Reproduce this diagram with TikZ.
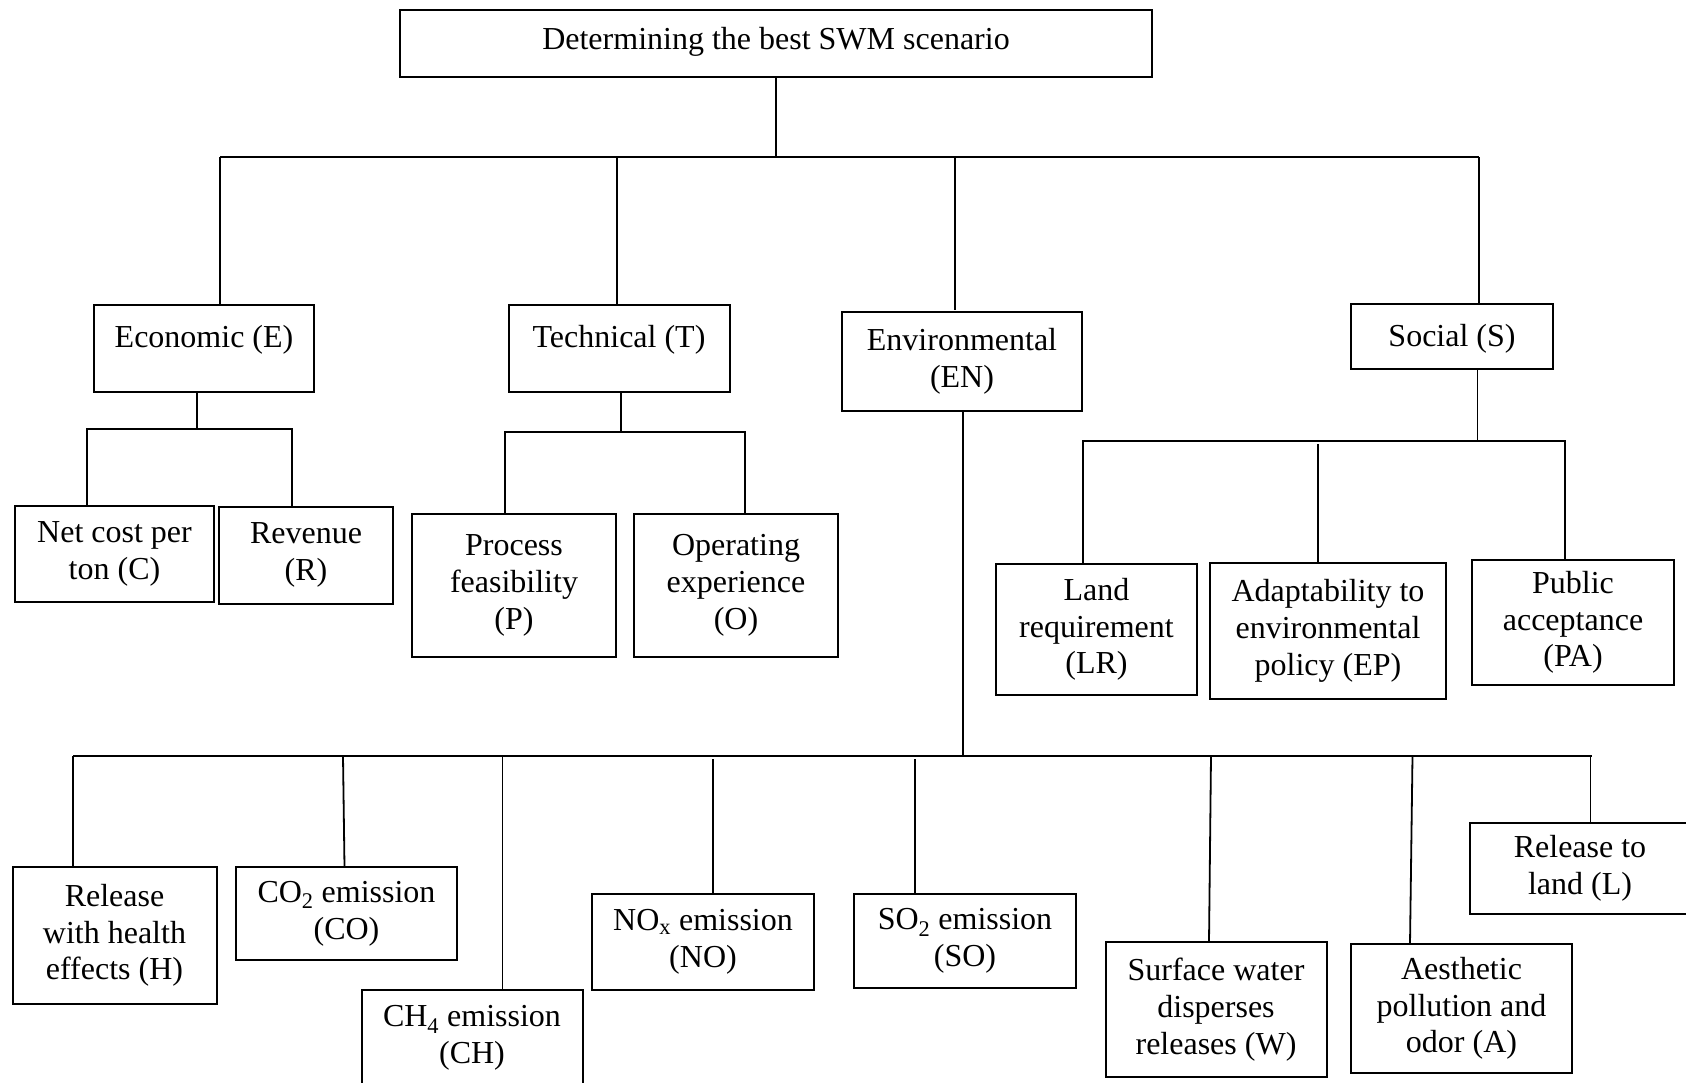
\documentclass[tikz,border=0pt]{standalone}
\usepackage{fontspec}
\setmainfont{Liberation Serif}
\tikzset{
  box/.style={draw,line width=2pt,rectangle,inner sep=0pt,outer sep=0pt,align=center,
    font=\fontsize{32}{36.7}\selectfont},
  link/.style={line width=1.8pt}
}
\begin{document}
\begin{tikzpicture}[x=1pt,y=-1pt]
\clip (0,0) rectangle (1686,1082);
\fill[white] (0,0) rectangle (1686,1082);

% goal
\node[box,minimum width=752,minimum height=67,text height=23pt,text depth=11pt] (goal) at (776,43.5) {Determining the best SWM scenario};

% criteria
\node[box,minimum width=220,minimum height=87,text height=23pt,text depth=25pt] (E) at (204,348.5) {Economic (E)};
\node[box,minimum width=221,minimum height=87,text height=23pt,text depth=25pt] (T) at (619,348.5) {Technical (T)};
\node[box,minimum width=240,minimum height=99] (EN) at (962,361) {Environmental\\(EN)};
\node[box,minimum width=202,minimum height=65,text height=23pt,text depth=4pt] (S) at (1452,336.5) {Social (S)};

% sub-criteria
\node[box,minimum width=199,minimum height=96] (C) at (114.5,554) {Net cost per\\ton (C)};
\node[box,minimum width=174,minimum height=97] (R) at (306,555) {Revenue\\(R)};
\node[box,minimum width=204,minimum height=143] (P) at (514,585.5) {Process\\feasibility\\(P)};
\node[box,minimum width=204,minimum height=143] (O) at (736,585.5) {Operating\\experience\\(O)};
\node[box,minimum width=201,minimum height=131] (LR) at (1096.5,629.5) {Land\\requirement\\(LR)};
\node[box,minimum width=236,minimum height=136] (EP) at (1328,631) {Adaptability to\\environmental\\policy (EP)};
\node[box,minimum width=202,minimum height=125] (PA) at (1573,622.5) {Public\\acceptance\\(PA)};

\node[box,minimum width=204,minimum height=137] (H) at (114.5,935.5) {Release\\with health\\effects (H)};
\node[box,minimum width=221,minimum height=93] (CO) at (346.5,913.5) {CO\textsubscript{2} emission\\(CO)};
\node[box,minimum width=221,minimum height=96] (CH) at (472,1038) {CH\textsubscript{4} emission\\(CH)};
\node[box,minimum width=222,minimum height=96] (NO) at (703,942) {NO\textsubscript{x} emission\\(NO)};
\node[box,minimum width=222,minimum height=94] (SO) at (965,941) {SO\textsubscript{2} emission\\(SO)};
\node[box,minimum width=221,minimum height=135] (W) at (1216,1009.5) {Surface water\\disperses\\releases (W)};
\node[box,minimum width=221,minimum height=129] (A) at (1461.5,1008.5) {Aesthetic\\pollution and\\odor (A)};
\node[box,minimum width=221,minimum height=91] (L) at (1580,868.5) {Release to\\land (L)};

% bus points
\coordinate (gB) at (776,157);
\coordinate (gL) at (220,157);
\coordinate (gR) at (1479,157);
\coordinate (eL) at (87,429);
\coordinate (eR) at (292,429);
\coordinate (tL) at (505,432);
\coordinate (tR) at (745,432);
\coordinate (sL) at (1083,441);
\coordinate (sR) at (1565,441);
\coordinate (nB) at (963,756);
\coordinate (nL) at (73,756);
\coordinate (nR) at (1592,756);

% top level
\draw[link] (goal.south -| gB) -- (gB);
\draw[link] (gL) -- (gR);
\draw[link] (gL) -- (gL |- E.north);
\draw[link] (617,157) -- (617,305);
\draw[link] (955,157) -- (955,310);
\draw[link] (gR) -- (gR |- S.north);

% economic
\draw[link] (197,392) -- (197,429);
\draw[link] (C.north -| eL) -- (eL) -- (eR) -- (R.north -| eR);

% technical
\draw[link] (621,392) -- (621,432);
\draw[link] (P.north -| tL) -- (tL) -- (tR) -- (O.north -| tR);

% social
\draw[link] (S.south -| 1477.5,0) -- (1477.5,441);
\draw[link] (LR.north -| sL) -- (sL) -- (sR) -- (PA.north -| sR);
\draw[link] (1318,444) -- (1318,563);

% environmental
\draw[link] (EN.south -| nB) -- (nB);
\draw[link] (nL) -- (nR);
\draw[link] (nL) -- (H.north -| nL);
\draw[link] (343,756) -- (344.5,867);
\draw[link] (502.5,756) -- (502.5,990);
\draw[link] (713,759) -- (713,894);
\draw[link] (915,759) -- (915,894);
\draw[link] (1211,756) -- (1209,942);
\draw[link] (1412.5,756) -- (1410,944);
\draw[link] (nR -| 1590.5,0) -- (1590.5,823);
\end{tikzpicture}
\end{document}
